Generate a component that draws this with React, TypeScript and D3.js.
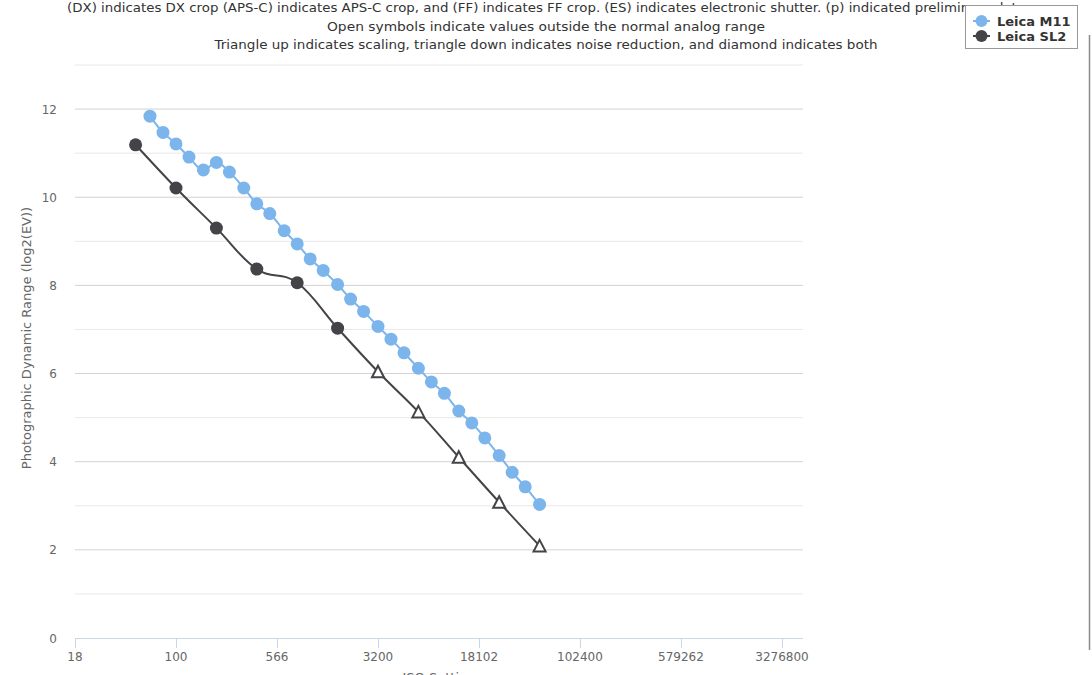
import React from "react";
import * as d3 from "d3";

const titleLines = [
  "(DX) indicates DX crop (APS-C) indicates APS-C crop, and (FF) indicates FF crop. (ES) indicates electronic shutter. (p) indicated preliminary data",
  "Open symbols indicate values outside the normal analog range",
  "Triangle up indicates scaling, triangle down indicates noise reduction, and diamond indicates both",
];

const xTickValues = [17.678, 100, 565.69, 3200, 18101.9, 102400, 579262.4, 3276800];
const xTickLabels = ["18", "100", "566", "3200", "18102", "102400", "579262", "3276800"];
const yMajorTicks = [0, 2, 4, 6, 8, 10, 12];
const yMinorTicks = [1, 3, 5, 7, 9, 11, 13];

const m11Iso = [64, 80, 100, 125, 160, 200, 250, 320, 400, 500, 640, 800, 1000, 1250, 1600, 2000, 2500, 3200, 4000, 5000, 6400, 8000, 10000, 12800, 16000, 20000, 25600, 32000, 40000, 51200];
const m11Dr = [11.84, 11.47, 11.21, 10.91, 10.62, 10.79, 10.57, 10.21, 9.85, 9.63, 9.24, 8.94, 8.6, 8.34, 8.02, 7.69, 7.41, 7.07, 6.78, 6.47, 6.12, 5.81, 5.55, 5.15, 4.88, 4.54, 4.14, 3.76, 3.43, 3.03];

const sl2Iso = [50, 100, 200, 400, 800, 1600, 3200, 6400, 12800, 25600, 51200];
const sl2Dr = [11.19, 10.21, 9.3, 8.37, 8.06, 7.03, 6.04, 5.13, 4.1, 3.08, 2.09];
const sl2Symbol = ["circle", "circle", "circle", "circle", "circle", "circle", "triangle", "triangle", "triangle", "triangle", "triangle"];

const seriesNames = ["Leica M11", "Leica SL2"];
const seriesColors = ["#7cb5ec", "#434348"];

const FONT = "'DejaVu Sans', Verdana, sans-serif";

type P = { x: number; y: number };

function splinePath(pts: P[]): string {
  const n = pts.length;
  const lc: (P | null)[] = new Array(n).fill(null);
  const rc: (P | null)[] = new Array(n).fill(null);
  const sm = 1.5, den = 2.5;
  for (let i = 1; i < n - 1; i++) {
    const last = pts[i - 1], cur = pts[i], next = pts[i + 1];
    const lcx = (sm * cur.x + last.x) / den;
    let lcy = (sm * cur.y + last.y) / den;
    const rcx = (sm * cur.x + next.x) / den;
    let rcy = (sm * cur.y + next.y) / den;
    if (rcx !== lcx) {
      const corr = ((rcy - lcy) * (rcx - cur.x)) / (rcx - lcx) + cur.y - rcy;
      lcy += corr;
      rcy += corr;
    }
    if (lcy > last.y && lcy > cur.y) { lcy = Math.max(last.y, cur.y); rcy = 2 * cur.y - lcy; }
    else if (lcy < last.y && lcy < cur.y) { lcy = Math.min(last.y, cur.y); rcy = 2 * cur.y - lcy; }
    if (rcy > next.y && rcy > cur.y) { rcy = Math.max(next.y, cur.y); lcy = 2 * cur.y - rcy; }
    else if (rcy < next.y && rcy < cur.y) { rcy = Math.min(next.y, cur.y); lcy = 2 * cur.y - rcy; }
    lc[i] = { x: lcx, y: lcy };
    rc[i] = { x: rcx, y: rcy };
  }
  const p = d3.path();
  pts.forEach((pt, i) => {
    if (i === 0) p.moveTo(pt.x, pt.y);
    else {
      const a = rc[i - 1] || pts[i - 1];
      const b = lc[i] || pt;
      p.bezierCurveTo(a.x, a.y, b.x, b.y, pt.x, pt.y);
    }
  });
  return p.toString();
}

export default function App() {
  const W = 1092, H = 675;
  const left = 75, right = 803, top = 65, bottom = 638;
  const x = d3.scaleLog().base(2).domain([17.678, 4.70e6]).range([left, right]);
  const y = d3.scaleLinear().domain([0, 13]).range([bottom, top]);

  const m11Pts = m11Iso.map((v, i) => ({ x: x(v), y: y(m11Dr[i]) }));
  const sl2Pts = sl2Iso.map((v, i) => ({ x: x(v), y: y(sl2Dr[i]) }));

  const titleY = [12, 30.5, 49];
  const titleLen = [958, 438, 663];

  return (
    <svg width={W} height={H} style={{ position: "absolute", left: 0, top: 0, background: "#fff" }} fontFamily={FONT}>
      <rect x={0} y={0} width={W} height={H} fill="#fff" />
      {/* grid */}
      {yMinorTicks.map((t) => (
        <line key={"mn" + t} x1={left} x2={right} y1={y(t)} y2={y(t)} stroke="#e8e8e8" strokeWidth={1} />
      ))}
      {yMajorTicks.filter((t) => t > 0).map((t) => (
        <line key={"mj" + t} x1={left} x2={right} y1={y(t)} y2={y(t)} stroke="#d2d2d2" strokeWidth={1} />
      ))}
      {/* x axis */}
      <line x1={left} x2={right} y1={bottom + 0.5} y2={bottom + 0.5} stroke="#ccd6eb" strokeWidth={1} />
      {xTickValues.map((v, i) => (
        <g key={"xt" + i}>
          <line x1={x(v) + 0.5} x2={x(v) + 0.5} y1={bottom} y2={bottom + 10} stroke="#ccd6eb" strokeWidth={1} />
          <text x={x(v)} y={661} textAnchor="middle" fontSize={12} fill="#666">{xTickLabels[i]}</text>
        </g>
      ))}
      <text x={(left + right) / 2} y={682} textAnchor="middle" fontSize={13} fill="#666">ISO Setting</text>
      {/* y labels */}
      {yMajorTicks.map((t) => (
        <text key={"yl" + t} x={57} y={y(t) + 4.5} textAnchor="end" fontSize={12} fill="#666">{t}</text>
      ))}
      <text transform={`translate(31,338) rotate(-90)`} textAnchor="middle" fontSize={13} fill="#666">
        Photographic Dynamic Range (log2(EV))
      </text>
      {/* series M11 */}
      <path d={splinePath(m11Pts)} fill="none" stroke={seriesColors[0]} strokeWidth={2} />
      {m11Pts.map((p, i) => (
        <circle key={"m" + i} cx={p.x} cy={p.y} r={6.5} fill={seriesColors[0]} />
      ))}
      {/* series SL2 */}
      <path d={splinePath(sl2Pts)} fill="none" stroke={seriesColors[1]} strokeWidth={2} />
      {sl2Pts.map((p, i) =>
        sl2Symbol[i] === "circle" ? (
          <circle key={"s" + i} cx={p.x} cy={p.y} r={6.5} fill={seriesColors[1]} />
        ) : (
          <path
            key={"s" + i}
            d={`M${p.x},${p.y - 6} L${p.x + 6},${p.y + 5.5} L${p.x - 6},${p.y + 5.5} Z`}
            fill="#fff"
            stroke={seriesColors[1]}
            strokeWidth={2}
          />
        )
      )}
      {/* title */}
      {titleLines.map((t, i) => (
        <text
          key={"t" + i}
          x={546}
          y={titleY[i]}
          textAnchor="middle"
          fontSize={13}
          fill="#333"
          textLength={titleLen[i]}
          lengthAdjust="spacingAndGlyphs"
        >
          {t}
        </text>
      ))}
      {/* legend */}
      <rect x={965.5} y={5.5} width={112} height={43} fill="#fff" stroke="#999" strokeWidth={1} />
      {seriesNames.map((n, i) => {
        const cy = [21, 36][i];
        return (
          <g key={"lg" + i}>
            <line x1={973} x2={990} y1={cy} y2={cy} stroke={seriesColors[i]} strokeWidth={2} />
            <circle cx={981.5} cy={cy} r={6} fill={seriesColors[i]} />
            <text x={997} y={cy + 4.5} fontSize={13} fontWeight="bold" fill="#333">{n}</text>
          </g>
        );
      })}
      {/* right border line */}
      <line x1={1089.5} x2={1089.5} y1={35} y2={650} stroke="#8a8a8a" strokeWidth={1.5} />
    </svg>
  );
}
